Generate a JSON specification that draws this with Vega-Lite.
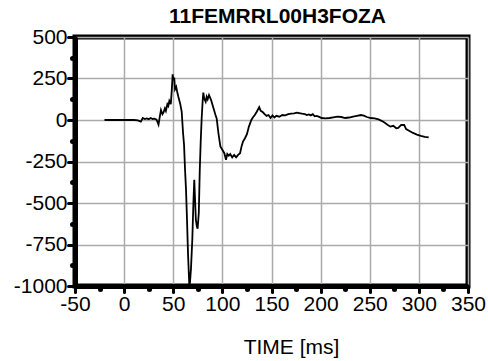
{
  "$schema": "https://vega.github.io/schema/vega-lite/v6.json",
  "width": 393,
  "height": 249,
  "autosize": {"type": "none"},
  "padding": {"left": 75, "top": 37, "right": 20, "bottom": 75},
  "background": "white",
  "config": {
    "view": {"stroke": "black", "strokeWidth": 5},
    "font": "Liberation Sans"
  },
  "title": {
    "text": "11FEMRRL00H3FOZA",
    "font": "Liberation Sans",
    "fontSize": 21,
    "fontWeight": "bold",
    "color": "black",
    "anchor": "middle",
    "offset": -1,
    "dx": 6
  },
  "data": {
    "values": [
      {"t": -20, "v": 0}, {"t": 0, "v": 0}, {"t": 10, "v": 0}, {"t": 14, "v": -2},
      {"t": 17, "v": -10}, {"t": 19, "v": 12}, {"t": 21, "v": 6}, {"t": 23, "v": 10},
      {"t": 25, "v": 5}, {"t": 27, "v": 12}, {"t": 29, "v": 6}, {"t": 31, "v": 8},
      {"t": 33, "v": 2}, {"t": 35, "v": -28}, {"t": 36, "v": 10}, {"t": 37.5, "v": 60},
      {"t": 39, "v": 35}, {"t": 40, "v": 45}, {"t": 41.5, "v": 70}, {"t": 42.5, "v": 55},
      {"t": 44, "v": 95}, {"t": 45, "v": 85}, {"t": 46, "v": 115}, {"t": 47.5, "v": 95},
      {"t": 48.5, "v": 180}, {"t": 49.4, "v": 275}, {"t": 50.2, "v": 240}, {"t": 51, "v": 255},
      {"t": 51.8, "v": 185}, {"t": 53, "v": 200}, {"t": 54, "v": 170}, {"t": 55.2, "v": 140},
      {"t": 57, "v": 100}, {"t": 58.6, "v": 50}, {"t": 60, "v": -80}, {"t": 61, "v": -150},
      {"t": 62, "v": -300}, {"t": 63, "v": -420}, {"t": 64, "v": -600}, {"t": 65, "v": -800},
      {"t": 66.3, "v": -990}, {"t": 67, "v": -980}, {"t": 68, "v": -900}, {"t": 69.4, "v": -720},
      {"t": 70.5, "v": -500}, {"t": 71.4, "v": -360}, {"t": 72, "v": -450}, {"t": 73, "v": -600},
      {"t": 74, "v": -640}, {"t": 74.8, "v": -655}, {"t": 76, "v": -560}, {"t": 77, "v": -300},
      {"t": 78, "v": -120}, {"t": 79, "v": 20}, {"t": 80, "v": 120}, {"t": 80.6, "v": 165},
      {"t": 81.5, "v": 130}, {"t": 83, "v": 110}, {"t": 84, "v": 140}, {"t": 85, "v": 125},
      {"t": 86.4, "v": 150}, {"t": 87.5, "v": 135}, {"t": 88.5, "v": 120}, {"t": 90, "v": 90},
      {"t": 91.5, "v": 60}, {"t": 93, "v": 30}, {"t": 94.2, "v": 10}, {"t": 96, "v": -80},
      {"t": 98, "v": -160}, {"t": 99.5, "v": -175}, {"t": 101, "v": -190}, {"t": 102, "v": -200},
      {"t": 103.7, "v": -240}, {"t": 105, "v": -205}, {"t": 106.5, "v": -215}, {"t": 108, "v": -205},
      {"t": 110, "v": -225}, {"t": 112, "v": -210}, {"t": 114, "v": -225}, {"t": 116, "v": -210},
      {"t": 118, "v": -200}, {"t": 119.5, "v": -160}, {"t": 121, "v": -130}, {"t": 123, "v": -110},
      {"t": 125, "v": -85}, {"t": 127, "v": -40}, {"t": 129.5, "v": 0}, {"t": 131, "v": 15},
      {"t": 133, "v": 30}, {"t": 135, "v": 50}, {"t": 137.5, "v": 78}, {"t": 139, "v": 55},
      {"t": 141, "v": 48}, {"t": 143, "v": 35}, {"t": 145, "v": 25}, {"t": 147, "v": 30},
      {"t": 149, "v": 12}, {"t": 151, "v": 28}, {"t": 153, "v": 15}, {"t": 155, "v": 25},
      {"t": 158, "v": 20}, {"t": 161, "v": 30}, {"t": 164, "v": 28}, {"t": 167, "v": 35},
      {"t": 170, "v": 38}, {"t": 173, "v": 40}, {"t": 176, "v": 44}, {"t": 178, "v": 42},
      {"t": 181, "v": 38}, {"t": 184, "v": 35}, {"t": 186, "v": 30}, {"t": 188, "v": 34},
      {"t": 190, "v": 28}, {"t": 192, "v": 35}, {"t": 194, "v": 22}, {"t": 196, "v": 25},
      {"t": 198, "v": 20}, {"t": 201, "v": 12}, {"t": 205, "v": 10}, {"t": 209, "v": 12},
      {"t": 213, "v": 16}, {"t": 217, "v": 20}, {"t": 221, "v": 18}, {"t": 225, "v": 12},
      {"t": 229, "v": 15}, {"t": 233, "v": 20}, {"t": 237, "v": 25}, {"t": 241, "v": 30},
      {"t": 244, "v": 26}, {"t": 247, "v": 18}, {"t": 251, "v": 12}, {"t": 255, "v": 10},
      {"t": 259, "v": 4}, {"t": 262, "v": -5}, {"t": 265, "v": -15}, {"t": 268, "v": -28},
      {"t": 271, "v": -40}, {"t": 274, "v": -35}, {"t": 277, "v": -50}, {"t": 279, "v": -48},
      {"t": 282, "v": -30}, {"t": 285, "v": -30}, {"t": 287, "v": -55}, {"t": 290, "v": -65},
      {"t": 294, "v": -78}, {"t": 298, "v": -88}, {"t": 302, "v": -96}, {"t": 306, "v": -102},
      {"t": 310, "v": -105}
    ]
  },
  "mark": {"type": "line", "color": "black", "strokeWidth": 1.8, "clip": true},
  "encoding": {
    "x": {
      "field": "t",
      "type": "quantitative",
      "scale": {"domain": [-50, 350], "nice": false, "zero": false},
      "axis": {
        "values": [-50, -25, 0, 25, 50, 75, 100, 125, 150, 175, 200, 225, 250, 275, 300, 325, 350],
        "labelExpr": "datum.value % 50 === 0 ? '' + datum.value : ''",
        "labelFlush": false,
        "labelOverlap": false,
        "labelFont": "Liberation Sans",
        "labelFontSize": 21,
        "labelColor": "black",
        "labelPadding": 1,
        "domainColor": "black",
        "domainWidth": 5,
        "tickColor": "black",
        "tickCap": "round",
        "tickSize": {"condition": {"test": "datum.value % 50 === 0", "value": 6}, "value": 3},
        "tickWidth": {"condition": {"test": "datum.value % 50 === 0", "value": 3}, "value": 5},
        "grid": true,
        "gridColor": "#aaaaaa",
        "gridWidth": 1.5,
        "gridOpacity": {"condition": {"test": "datum.value % 50 === 0", "value": 1}, "value": 0},
        "title": "TIME [ms]",
        "titleFont": "Liberation Sans",
        "titleFontSize": 21,
        "titleFontWeight": "normal",
        "titleColor": "black",
        "titleX": 216,
        "titleY": 67,
        "titleBaseline": "alphabetic",
        "titleAnchor": "middle",
        "titleAlign": "center"
      }
    },
    "y": {
      "field": "v",
      "type": "quantitative",
      "scale": {"domain": [-1000, 500], "nice": false, "zero": false},
      "axis": {
        "values": [-1000, -875, -750, -625, -500, -375, -250, -125, 0, 125, 250, 375, 500],
        "labelExpr": "datum.value % 250 === 0 ? '' + datum.value : ''",
        "labelFlush": false,
        "labelOverlap": false,
        "labelFont": "Liberation Sans",
        "labelFontSize": 21,
        "labelColor": "black",
        "labelPadding": 1,
        "domainColor": "black",
        "domainWidth": 5,
        "tickColor": "black",
        "tickCap": "round",
        "tickSize": {"condition": {"test": "datum.value % 250 === 0", "value": 7}, "value": 3},
        "tickWidth": {"condition": {"test": "datum.value % 250 === 0", "value": 3}, "value": 5},
        "grid": true,
        "gridColor": "#aaaaaa",
        "gridWidth": 1.5,
        "gridOpacity": {"condition": {"test": "datum.value % 250 === 0", "value": 1}, "value": 0},
        "title": null
      }
    }
  }
}
